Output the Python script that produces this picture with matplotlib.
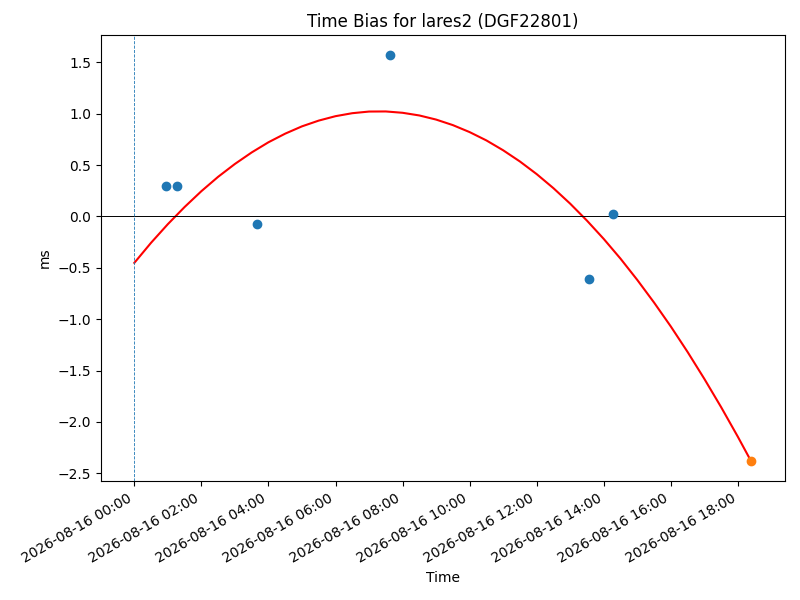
import matplotlib
matplotlib.use("Agg")
import matplotlib.pyplot as plt
import matplotlib.dates as mdates
from datetime import datetime, timedelta

base = datetime(2026, 8, 16, 0, 0)

# observed time bias points (blue)
obs_times = ["2026-08-16 00:57", "2026-08-16 01:17", "2026-08-16 03:40",
             "2026-08-16 07:38", "2026-08-16 13:33", "2026-08-16 14:17"]
obs_bias = [0.292, 0.292, -0.078, 1.569, -0.611, 0.020]

# predicted point (orange)
pred_times = ["2026-08-16 18:23"]
pred_bias = [-2.380]

# fitted curve (hours after 00:00)
curve_hours = [0, 0.5, 1, 1.5, 2, 2.5, 3, 3.5, 4, 4.5, 5, 5.5, 6, 6.5, 7, 7.5, 8, 8.5,
               9, 9.5, 10, 10.5, 11, 11.5, 12, 12.5, 13, 13.5, 14, 14.5, 15, 15.5,
               16, 16.5, 17, 17.5, 18, 18.39]
curve_bias = [-0.452, -0.256, -0.075, 0.092, 0.246, 0.386, 0.511, 0.623, 0.722, 0.806,
              0.877, 0.933, 0.976, 1.005, 1.021, 1.022, 1.009, 0.983, 0.943, 0.889,
              0.821, 0.740, 0.644, 0.535, 0.412, 0.275, 0.124, -0.041, -0.219, -0.411,
              -0.618, -0.838, -1.071, -1.319, -1.581, -1.856, -2.145, -2.380]

fmt = "%Y-%m-%d %H:%M"
obs_t = [datetime.strptime(s, fmt) for s in obs_times]
pred_t = [datetime.strptime(s, fmt) for s in pred_times]
curve_t = [base + timedelta(hours=h) for h in curve_hours]

fig, ax = plt.subplots(figsize=(8, 6), dpi=100)
ax.plot(curve_t, curve_bias, color="red", lw=1.5, solid_joinstyle="round")
ax.scatter(obs_t, obs_bias, color="C0", zorder=3)
ax.scatter(pred_t, pred_bias, color="C1", zorder=3)
ax.axhline(0, color="black", lw=0.7)
ax.axvline(base, color="C0", ls="--", lw=0.6)

ax.set_xlim(base - timedelta(hours=1.0), base + timedelta(hours=19.4))
ax.xaxis.set_major_locator(mdates.HourLocator(interval=2))
ax.xaxis.set_major_formatter(mdates.DateFormatter("%Y-%m-%d %H:%M"))
ax.set_title("Time Bias for lares2 (DGF22801)")
ax.set_xlabel("Time")
ax.set_ylabel("ms")
for lbl in ax.get_xticklabels():
    lbl.set_rotation(30)
    lbl.set_ha("right")

fig.subplots_adjust(left=0.126, right=0.981, top=0.9417, bottom=0.198)
fig.savefig("out.png", dpi=100)
